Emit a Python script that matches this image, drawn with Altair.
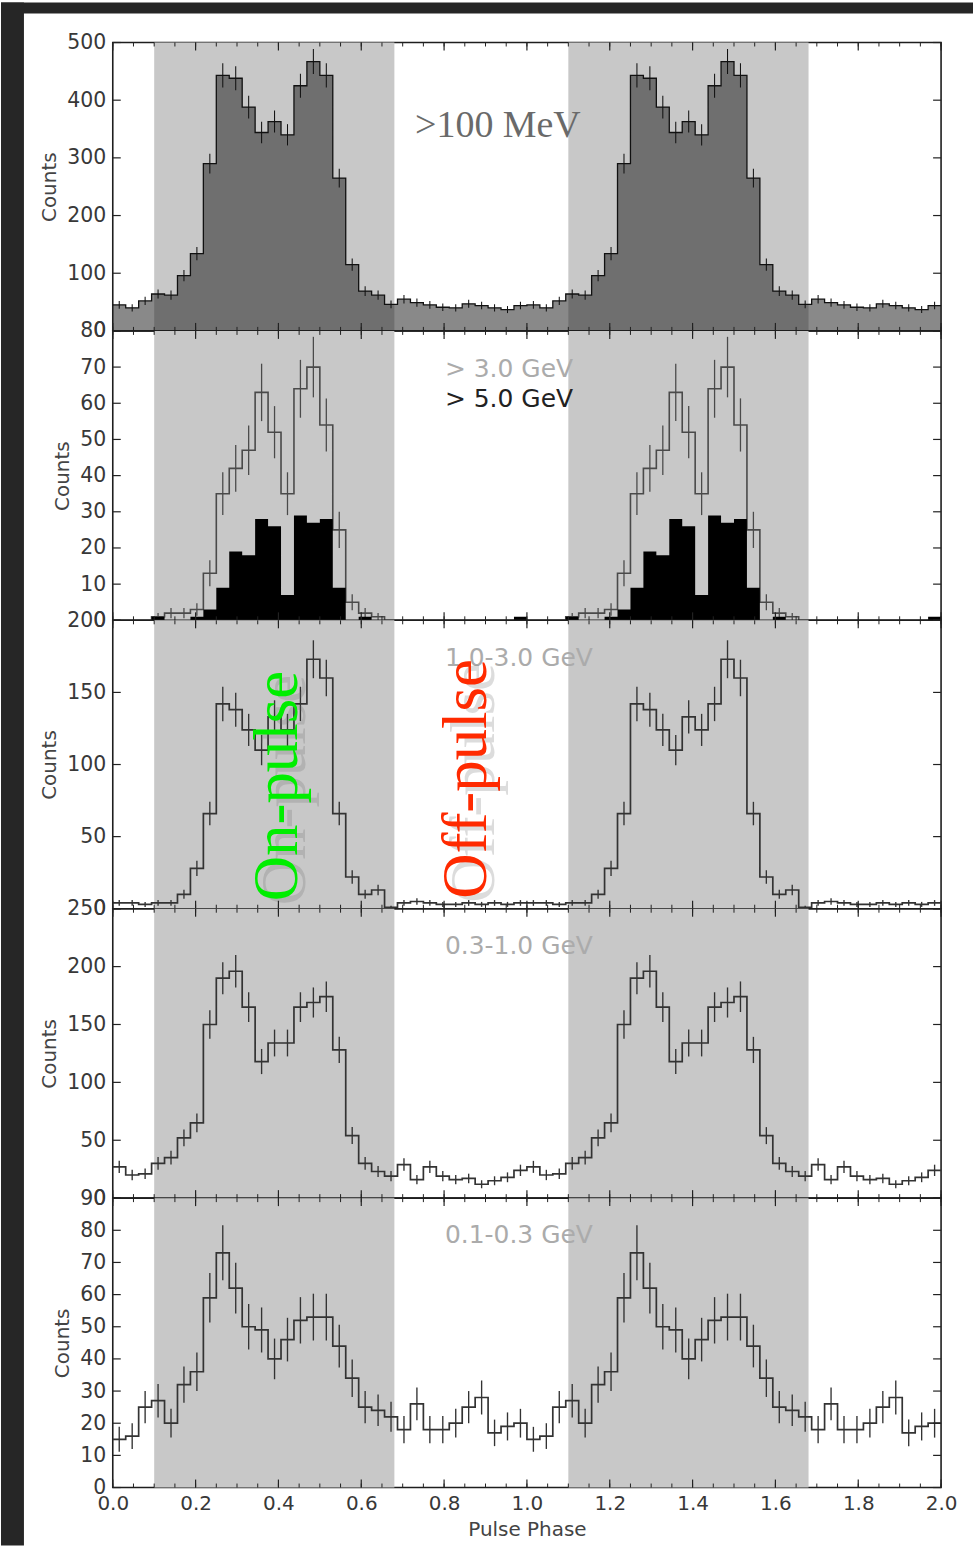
import altair as alt
import pandas as pd
import numpy as np

# ---------------- data (32 phase bins per rotation, shown twice) ----------------
NBINS = 32
counts_100mev = [45, 40, 52, 64, 62, 96, 134, 290, 443, 438, 388, 344, 363, 340, 425, 467,
                 443, 265, 115, 69, 62, 46, 55, 49, 45, 41, 40, 47, 44, 40, 37, 44]
counts_3gev = [0, 0, 0, 1, 2, 2, 3, 13, 35, 42, 47, 63, 52, 35, 64, 70,
               54, 25, 5, 2, 1, 0, 0, 0, 0, 0, 0, 0, 0, 0, 0, 0]
counts_5gev = [0, 0, 0, 1, 0, 0, 1, 3, 9, 19, 18, 28, 26, 7, 29, 27,
               28, 9, 0, 1, 0, 0, 0, 0, 0, 0, 0, 0, 0, 0, 0, 1]
counts_1_3gev = [4, 4, 3, 4, 4, 10, 28, 66, 142, 138, 124, 110, 133, 124, 142, 173,
                 160, 66, 22, 10, 13, 1, 4, 5, 4, 3, 3, 4, 3, 4, 3, 4]
counts_03_1gev = [27, 20, 21, 30, 35, 52, 65, 150, 190, 196, 165, 118, 134, 134, 165, 169,
                  174, 128, 54, 30, 23, 19, 29, 16, 27, 19, 16, 17, 12, 15, 18, 24]
counts_01_03gev = [15, 16, 25, 27, 20, 32, 36, 59, 73, 62, 50, 49, 40, 46, 52, 53,
                   53, 44, 34, 25, 24, 22, 18, 26, 18, 18, 20, 25, 28, 17, 19, 20]

on_pulse_windows = [(0.1, 0.68), (1.1, 1.68)]

y_max = [500, 80, 200, 250, 90]
y_tick_values = [
    [0, 100, 200, 300, 400, 500],
    [0, 10, 20, 30, 40, 50, 60, 70, 80],
    [0, 50, 100, 150, 200],
    [0, 50, 100, 150, 200, 250],
    [0, 10, 20, 30, 40, 50, 60, 70, 80, 90],
]
x_label_values = [0.0, 0.2, 0.4, 0.6, 0.8, 1.0, 1.2, 1.4, 1.6, 1.8, 2.0]
x_minor_values = [round(k * 0.05, 2) for k in range(41)]

# ---------------- layout / style ----------------
W = 830
HEIGHTS = [289, 290, 289, 290, 290]
LABEL_FONT = "DejaVu Sans"
AXIS_COLOR = "#383838"
BAND_COLOR = "#c8c8c8"


def step_df(vals):
    xs = [i / NBINS for i in range(2 * NBINS)] + [2.0]
    ys = [vals[i % NBINS] for i in range(2 * NBINS)] + [vals[-1]]
    return pd.DataFrame({"x": xs, "y": ys})


def err_df(vals):
    rows = []
    for i in range(2 * NBINS):
        v = vals[i % NBINS]
        if v > 0:
            e = float(np.sqrt(v))
            rows.append({"x": (i + 0.5) / NBINS, "lo": max(v - e, 0), "hi": v + e})
    return pd.DataFrame(rows)


band_df = pd.DataFrame({"x0": [a for a, b in on_pulse_windows],
                        "x1": [b for a, b in on_pulse_windows]})
xmaj_df = pd.DataFrame({"t": x_label_values})
xmin_df = pd.DataFrame({"t": x_minor_values})


def panel(idx, layers_fn, bottom=False):
    h = HEIGHTS[idx]
    xscale = alt.Scale(domain=[0, 2], nice=False, zero=False)
    yscale = alt.Scale(domain=[0, y_max[idx]], nice=False)
    if bottom:
        xaxis = alt.Axis(values=x_label_values, format=".1f", title="Pulse Phase",
                         labelFlush=False, tickSize=0, domain=False, grid=False,
                         labelFont=LABEL_FONT, labelFontSize=20, labelColor=AXIS_COLOR,
                         labelPadding=6, titleFont=LABEL_FONT, titleFontSize=20,
                         titleFontWeight="normal", titleColor="#444444", titlePadding=6)
    else:
        xaxis = None
    yaxis = alt.Axis(values=y_tick_values[idx], title="Counts", tickSize=0, domain=False,
                     grid=False, labelOverlap=False, labelFont=LABEL_FONT, labelFontSize=20.5,
                     labelColor=AXIS_COLOR, labelPadding=7, titleFont=LABEL_FONT,
                     titleFontSize=20, titleFontWeight="normal", titleColor="#444444",
                     titlePadding=7)

    def X(f):
        return alt.X(f, scale=xscale, axis=xaxis)

    def Y(f):
        return alt.Y(f, scale=yscale, axis=yaxis)

    band = alt.Chart(band_df).mark_rect(color=BAND_COLOR).encode(
        x=X("x0:Q"), x2="x1:Q", y=alt.value(0), y2=alt.value(h))

    data_layers = layers_fn(X, Y, h)

    ytick_df = pd.DataFrame({"t": y_tick_values[idx]})
    tick_layers = [
        alt.Chart(xmaj_df).mark_rule(color="#222", strokeWidth=1.2).encode(
            x=X("t:Q"), y=alt.value(0), y2=alt.value(8)),
        alt.Chart(xmaj_df).mark_rule(color="#222", strokeWidth=1.2).encode(
            x=X("t:Q"), y=alt.value(h - 8), y2=alt.value(h)),
        alt.Chart(xmin_df).mark_rule(color="#222", strokeWidth=1).encode(
            x=X("t:Q"), y=alt.value(0), y2=alt.value(4)),
        alt.Chart(xmin_df).mark_rule(color="#222", strokeWidth=1).encode(
            x=X("t:Q"), y=alt.value(h - 4), y2=alt.value(h)),
        alt.Chart(ytick_df).mark_rule(color="#222", strokeWidth=1.2).encode(
            y=Y("t:Q"), x=alt.value(0), x2=alt.value(8)),
        alt.Chart(ytick_df).mark_rule(color="#222", strokeWidth=1.2).encode(
            y=Y("t:Q"), x=alt.value(W - 8), x2=alt.value(W)),
    ]
    return alt.layer(band, *data_layers, *tick_layers).properties(width=W, height=h)


def label_layer(X, Y, text, xv, yv, color, size, font=LABEL_FONT):
    df = pd.DataFrame({"x": [xv], "y": [yv], "label": [text]})
    return alt.Chart(df).mark_text(align="left", baseline="middle", font=font,
                                   fontSize=size, color=color).encode(
        x=X("x:Q"), y=Y("y:Q"), text="label:N")


def line_hist(X, Y, vals, color, width):
    line = alt.Chart(step_df(vals)).mark_line(
        interpolate="step-after", color=color, strokeWidth=width).encode(x=X("x:Q"), y=Y("y:Q"))
    err = alt.Chart(err_df(vals)).mark_rule(color=color, strokeWidth=width * 0.8).encode(
        x=X("x:Q"), y=Y("lo:Q"), y2="hi:Q")
    return [line, err]


# ---- panel 1 : >100 MeV ----
def p1_layers(X, Y, h):
    frame = pd.DataFrame({"a": [0]})
    dark_left = alt.Chart(frame).mark_rect(color="#262626").encode(
        x=alt.value(-112), x2=alt.value(-89), y=alt.value(-40), y2=alt.value(1506))
    dark_top = alt.Chart(frame).mark_rect(color="#262626").encode(
        x=alt.value(-112), x2=alt.value(862), y=alt.value(-40), y2=alt.value(-29))
    area = alt.Chart(step_df(counts_100mev)).mark_area(
        interpolate="step-after", color="#202020", opacity=0.53).encode(
        x=X("x:Q"), y=Y("y:Q"))
    return [dark_left, dark_top, area] + line_hist(X, Y, counts_100mev, "#111111", 1.3) + [
        label_layer(X, Y, ">100 MeV", 0.73, 356, "#6a6a6a", 38, font="Liberation Serif")]


# ---- panel 2 : >3 GeV and >5 GeV ----
def p2_layers(X, Y, h):
    black = alt.Chart(step_df(counts_5gev)).mark_area(
        interpolate="step-after", color="#000000").encode(x=X("x:Q"), y=Y("y:Q"))
    return line_hist(X, Y, counts_3gev, "#4a4a4a", 1.6) + [black,
        label_layer(X, Y, "> 3.0 GeV", 0.802, 69.5, "#ababab", 25),
        label_layer(X, Y, "> 5.0 GeV", 0.802, 61.2, "#222222", 25)]


# ---- panel 3 : 1.0-3.0 GeV ----
def p3_layers(X, Y, h):
    notes = pd.DataFrame({"x": [0.40, 0.855], "y": [85, 90],
                          "label": ["On-pulse", "Off-pulse"]})
    shadow = alt.Chart(notes).mark_text(angle=270, align="center", baseline="middle",
                                        font="Liberation Serif", fontSize=63,
                                        color="#666666", opacity=0.22, dx=-4, dy=8).encode(
        x=X("x:Q"), y=Y("y:Q"), text="label:N")
    on = alt.Chart(notes.iloc[[0]]).mark_text(angle=270, align="center", baseline="middle",
                                              font="Liberation Serif", fontSize=63,
                                              color="#00ee00").encode(
        x=X("x:Q"), y=Y("y:Q"), text="label:N")
    off = alt.Chart(notes.iloc[[1]]).mark_text(angle=270, align="center", baseline="middle",
                                               font="Liberation Serif", fontSize=63,
                                               color="#ff2a00").encode(
        x=X("x:Q"), y=Y("y:Q"), text="label:N")
    return line_hist(X, Y, counts_1_3gev, "#333333", 1.7) + [
        label_layer(X, Y, "1.0-3.0 GeV", 0.802, 173.7, "#ababab", 25), shadow, on, off]


# ---- panel 4 : 0.3-1.0 GeV ----
def p4_layers(X, Y, h):
    return line_hist(X, Y, counts_03_1gev, "#333333", 1.7) + [
        label_layer(X, Y, "0.3-1.0 GeV", 0.802, 217.6, "#ababab", 25)]


# ---- panel 5 : 0.1-0.3 GeV ----
def p5_layers(X, Y, h):
    return line_hist(X, Y, counts_01_03gev, "#333333", 1.7) + [
        label_layer(X, Y, "0.1-0.3 GeV", 0.802, 78.4, "#ababab", 25)]


chart = alt.vconcat(
    panel(0, p1_layers),
    panel(1, p2_layers),
    panel(2, p3_layers),
    panel(3, p4_layers),
    panel(4, p5_layers, bottom=True),
    spacing=0,
    bounds="flush",
).properties(
    background="white",
    padding=0,
).configure_view(
    stroke="#1e1e1e", strokeWidth=1.6
)

chart.save("out.html", embed_options={"renderer": "svg", "actions": False})
